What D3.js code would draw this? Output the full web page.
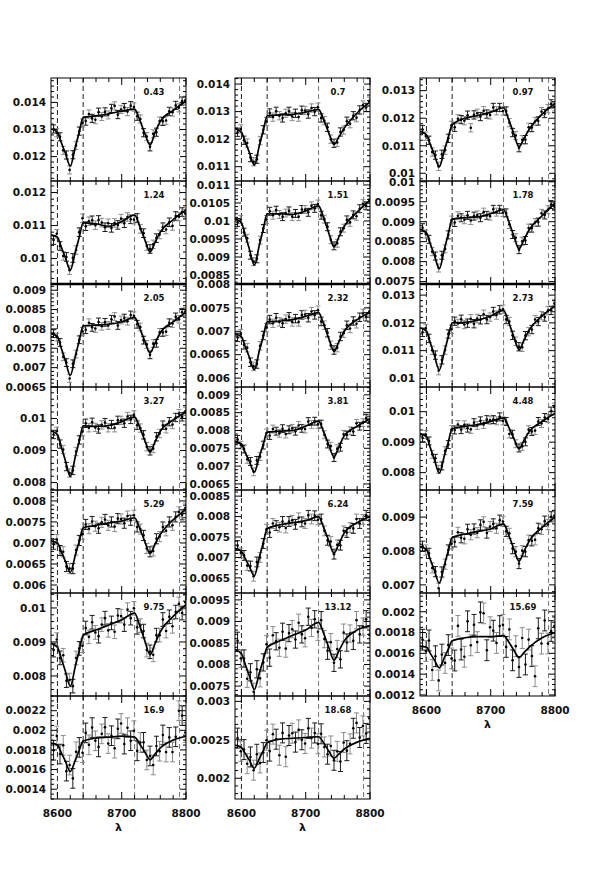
<!DOCTYPE html>
<html><head><meta charset="utf-8">
<script src="https://cdn.jsdelivr.net/npm/d3@7"></script>
<style>body{margin:0;background:#fff}svg{display:block}text{font-family:"DejaVu Sans",sans-serif;fill:#111}</style>
</head><body><svg id="c" width="604" height="870"></svg>
<script>
// ---------- data ----------
const wavelengths = [8594,8599,8604,8609,8614,8619,8624,8629,8634,8639,8644,8649,8654,8659,8664,8669,8674,8679,8684,8689,8694,8699,8704,8709,8714,8719,8724,8729,8734,8739,8744,8749,8754,8759,8764,8769,8774,8779,8784,8789,8794,8799];
const modelWavelengths = [8590,8600,8606,8612,8620,8628,8634,8640,8660,8680,8700,8720,8728,8736,8744,8752,8760,8780,8800];
const lineMarkers = [8600,8640,8720,8790];
const xTickLabels = [8600,8700,8800];
const panelLabels = ["0.43","0.7","0.97","1.24","1.51","1.78","2.05","2.32","2.73","3.27","3.81","4.48","5.29","6.24","7.59","9.75","13.12","15.69","16.9","18.68"];
const yMin = [0.0111,0.01048,0.00972,0.00923,0.00825,0.00744,0.0065,0.00581,0.00969,0.00777,0.00633,0.00743,0.00581,0.00613,0.00676,0.00741,0.00727,0.00119,0.0013,0.00173];
const yMax = [0.0149,0.01422,0.01346,0.01235,0.01111,0.01002,0.00916,0.00801,0.0134,0.01098,0.00922,0.01081,0.00826,0.00865,0.0098,0.01044,0.00966,0.00218,0.00235,0.00307];
const majorStep = [0.001,0.001,0.001,0.001,0.0005,0.0005,0.0005,0.0005,0.001,0.001,0.0005,0.001,0.0005,0.0005,0.001,0.001,0.0005,0.0002,0.0002,0.0005];
const errorSize = [0.00015,0.00015,0.00015,0.00013,0.00011,0.0001,0.0001,0.00009,0.00015,0.00013,0.00011,0.00013,0.00012,0.00012,0.00015,0.0002,0.0002,0.0001,0.0001,0.00013];

const flux043 = [0.01302,0.01288,0.01273,0.01223,0.01206,0.01151,0.01207,0.01241,0.01294,0.01324,0.01331,0.01357,0.01341,0.01336,0.01364,0.01348,0.01365,0.01354,0.01378,0.01387,0.01355,0.01374,0.01381,0.01366,0.01388,0.01383,0.01349,0.01339,0.01288,0.01274,0.01236,0.01284,0.01290,0.01331,0.01330,0.01333,0.01367,0.01364,0.01389,0.01380,0.01405,0.01408];
const flux070 = [0.01225,0.01237,0.01196,0.01186,0.01133,0.01118,0.01127,0.01195,0.01234,0.01264,0.01295,0.01280,0.01301,0.01285,0.01277,0.01294,0.01301,0.01282,0.01294,0.01280,0.01305,0.01304,0.01291,0.01313,0.01300,0.01316,0.01277,0.01267,0.01243,0.01200,0.01185,0.01188,0.01226,0.01233,0.01265,0.01256,0.01285,0.01278,0.01306,0.01324,0.01315,0.01338];
const flux097 = [0.01159,0.01135,0.01120,0.01077,0.01066,0.01025,0.01069,0.01084,0.01127,0.01174,0.01167,0.01198,0.01195,0.01191,0.01211,0.01165,0.01212,0.01218,0.01206,0.01227,0.01215,0.01212,0.01239,0.01227,0.01239,0.01226,0.01226,0.01184,0.01148,0.01137,0.01093,0.01122,0.01122,0.01167,0.01166,0.01188,0.01190,0.01224,0.01217,0.01235,0.01252,0.01241];
const flux124 = [0.01056,0.01075,0.01038,0.01008,0.01005,0.00965,0.01002,0.01026,0.01080,0.01122,0.01098,0.01113,0.01116,0.01101,0.01117,0.01109,0.01095,0.01107,0.01093,0.01108,0.01102,0.01121,0.01107,0.01126,0.01119,0.01118,0.01123,0.01090,0.01077,0.01038,0.01029,0.01043,0.01062,0.01073,0.01095,0.01088,0.01110,0.01099,0.01129,0.01127,0.01141,0.01136];
const flux151 = [0.00996,0.01004,0.00969,0.00952,0.00905,0.00887,0.00895,0.00947,0.00979,0.01004,0.01027,0.01016,0.01030,0.01018,0.01012,0.01022,0.01028,0.01012,0.01021,0.01012,0.01032,0.01032,0.01024,0.01042,0.01035,0.01047,0.01016,0.01005,0.00984,0.00948,0.00931,0.00938,0.00970,0.00980,0.01003,0.00996,0.01017,0.01013,0.01034,0.01048,0.01042,0.01059];
const flux178 = [0.00885,0.00869,0.00856,0.00825,0.00814,0.00784,0.00816,0.00832,0.00867,0.00904,0.00898,0.00915,0.00910,0.00905,0.00916,0.00903,0.00914,0.00917,0.00910,0.00924,0.00916,0.00914,0.00931,0.00924,0.00931,0.00923,0.00922,0.00893,0.00868,0.00860,0.00830,0.00851,0.00853,0.00884,0.00884,0.00898,0.00899,0.00921,0.00917,0.00930,0.00943,0.00938];
const flux205 = [0.00788,0.00779,0.00765,0.00728,0.00713,0.00672,0.00710,0.00735,0.00772,0.00794,0.00798,0.00816,0.00804,0.00801,0.00818,0.00807,0.00817,0.00809,0.00825,0.00832,0.00809,0.00823,0.00828,0.00820,0.00836,0.00834,0.00812,0.00805,0.00771,0.00760,0.00733,0.00762,0.00763,0.00791,0.00791,0.00793,0.00816,0.00814,0.00831,0.00825,0.00843,0.00845];
const flux232 = [0.00687,0.00695,0.00671,0.00665,0.00634,0.00625,0.00630,0.00669,0.00691,0.00708,0.00725,0.00717,0.00729,0.00720,0.00717,0.00726,0.00731,0.00720,0.00727,0.00720,0.00735,0.00736,0.00729,0.00742,0.00735,0.00745,0.00721,0.00713,0.00697,0.00670,0.00660,0.00665,0.00689,0.00696,0.00713,0.00706,0.00722,0.00716,0.00730,0.00738,0.00731,0.00742];
const flux273 = [0.01166,0.01180,0.01144,0.01101,0.01084,0.01028,0.01067,0.01102,0.01160,0.01177,0.01206,0.01198,0.01213,0.01194,0.01199,0.01215,0.01197,0.01216,0.01211,0.01231,0.01212,0.01221,0.01241,0.01228,0.01247,0.01249,0.01212,0.01205,0.01155,0.01134,0.01114,0.01112,0.01154,0.01168,0.01176,0.01212,0.01205,0.01226,0.01221,0.01244,0.01245,0.01270];
const flux327 = [0.00950,0.00960,0.00920,0.00903,0.00850,0.00830,0.00838,0.00897,0.00933,0.00959,0.00985,0.00971,0.00988,0.00972,0.00967,0.00980,0.00987,0.00971,0.00981,0.00971,0.00994,0.00994,0.00985,0.01006,0.00997,0.01011,0.00979,0.00970,0.00949,0.00912,0.00899,0.00906,0.00943,0.00953,0.00979,0.00968,0.00990,0.00981,0.01003,0.01015,0.01005,0.01022];
const flux381 = [0.00775,0.00759,0.00748,0.00719,0.00713,0.00684,0.00716,0.00727,0.00759,0.00793,0.00786,0.00804,0.00798,0.00792,0.00805,0.00790,0.00802,0.00806,0.00798,0.00814,0.00806,0.00804,0.00825,0.00817,0.00826,0.00817,0.00818,0.00788,0.00762,0.00756,0.00724,0.00749,0.00753,0.00789,0.00787,0.00799,0.00797,0.00820,0.00812,0.00822,0.00834,0.00824];
const flux448 = [0.00914,0.00925,0.00904,0.00860,0.00847,0.00811,0.00822,0.00872,0.00892,0.00941,0.00940,0.00958,0.00941,0.00957,0.00946,0.00942,0.00964,0.00955,0.00970,0.00958,0.00974,0.00972,0.00974,0.00970,0.00983,0.00970,0.00968,0.00927,0.00926,0.00895,0.00881,0.00886,0.00901,0.00941,0.00935,0.00938,0.00968,0.00961,0.00981,0.00977,0.01002,0.01015];
const flux529 = [0.00697,0.00708,0.00682,0.00679,0.00644,0.00639,0.00639,0.00683,0.00706,0.00721,0.00744,0.00734,0.00751,0.00740,0.00735,0.00749,0.00756,0.00742,0.00750,0.00739,0.00758,0.00757,0.00747,0.00764,0.00754,0.00766,0.00738,0.00733,0.00718,0.00687,0.00679,0.00681,0.00710,0.00715,0.00738,0.00729,0.00750,0.00742,0.00762,0.00774,0.00767,0.00783];
const flux624 = [0.00729,0.00711,0.00705,0.00680,0.00679,0.00654,0.00689,0.00700,0.00734,0.00769,0.00761,0.00783,0.00778,0.00774,0.00788,0.00772,0.00788,0.00791,0.00781,0.00797,0.00787,0.00783,0.00803,0.00794,0.00802,0.00792,0.00794,0.00765,0.00742,0.00739,0.00708,0.00731,0.00730,0.00765,0.00761,0.00773,0.00771,0.00794,0.00783,0.00793,0.00803,0.00791];
const flux759 = [0.00814,0.00803,0.00793,0.00750,0.00739,0.00690,0.00738,0.00761,0.00803,0.00821,0.00827,0.00855,0.00839,0.00836,0.00864,0.00848,0.00865,0.00854,0.00877,0.00886,0.00853,0.00872,0.00880,0.00867,0.00891,0.00887,0.00858,0.00852,0.00807,0.00798,0.00763,0.00801,0.00798,0.00832,0.00830,0.00833,0.00867,0.00864,0.00888,0.00878,0.00901,0.00904];
const flux975 = [0.00876,0.00907,0.00853,0.00861,0.00786,0.00788,0.00770,0.00853,0.00881,0.00889,0.00941,0.00915,0.00958,0.00928,0.00917,0.00951,0.00970,0.00934,0.00956,0.00930,0.00978,0.00976,0.00951,0.00995,0.00970,0.00999,0.00943,0.00948,0.00932,0.00876,0.00871,0.00862,0.00920,0.00920,0.00966,0.00932,0.00974,0.00946,0.00988,0.01012,0.00985,0.01017];
const flux1312 = [0.00855,0.00814,0.00814,0.00767,0.00782,0.00737,0.00789,0.00768,0.00805,0.00847,0.00816,0.00868,0.00854,0.00839,0.00876,0.00837,0.00873,0.00882,0.00858,0.00897,0.00870,0.00861,0.00911,0.00885,0.00905,0.00876,0.00903,0.00859,0.00832,0.00852,0.00804,0.00836,0.00812,0.00874,0.00851,0.00872,0.00855,0.00903,0.00870,0.00888,0.00905,0.00869];
const flux1569 = [0.001731,0.001622,0.001724,0.001440,0.001572,0.001340,0.001588,0.001508,0.001679,0.001551,0.001531,0.001864,0.001637,0.001567,0.001908,0.001677,0.001874,0.001708,0.001994,0.001985,0.001630,0.001851,0.001818,0.001700,0.001862,0.001874,0.001662,0.001830,0.001533,0.001669,0.001469,0.001747,0.001493,0.001732,0.001574,0.001380,0.001840,0.001694,0.001916,0.001695,0.001815,0.001863];
const flux1690 = [0.001797,0.001943,0.001758,0.001847,0.001584,0.001646,0.001510,0.001782,0.001826,0.001771,0.001974,0.001852,0.002028,0.001893,0.001831,0.001964,0.002031,0.001865,0.001945,0.001818,0.002015,0.002070,0.001860,0.002027,0.001894,0.001996,0.001791,0.001876,0.001878,0.001698,0.001739,0.001647,0.001840,0.001787,0.001953,0.001778,0.001928,0.001779,0.001934,0.002200,0.002150,0.001977];
const flux1868 = [0.002522,0.002351,0.002373,0.002189,0.002277,0.002105,0.002312,0.002199,0.002334,0.002495,0.002353,0.002574,0.002508,0.002300,0.002590,0.002280,0.002556,0.002585,0.002470,0.002629,0.002501,0.002452,0.002649,0.002522,0.002589,0.002449,0.002578,0.002407,0.002313,0.002420,0.002234,0.002350,0.002218,0.002464,0.002359,0.002447,0.002650,0.002720,0.002530,0.002680,0.002583,0.002780];

const model043 = [0.01302,0.01290,0.01252,0.01215,0.01165,0.01237,0.01291,0.01345,0.01350,0.01358,0.01368,0.01375,0.01335,0.01285,0.01243,0.01290,0.01330,0.01370,0.01405];
const model070 = [0.01238,0.01225,0.01189,0.01154,0.01106,0.01178,0.01231,0.01285,0.01288,0.01290,0.01298,0.01308,0.01270,0.01222,0.01180,0.01210,0.01240,0.01295,0.01335];
const model097 = [0.01152,0.01140,0.01105,0.01070,0.01024,0.01085,0.01130,0.01176,0.01200,0.01210,0.01222,0.01238,0.01195,0.01143,0.01096,0.01128,0.01160,0.01215,0.01254];
const model124 = [0.01072,0.01065,0.01035,0.01005,0.00965,0.01022,0.01065,0.01108,0.01105,0.01098,0.01112,0.01132,0.01098,0.01057,0.01020,0.01050,0.01080,0.01118,0.01147];
const model151 = [0.01006,0.00995,0.00960,0.00924,0.00877,0.00934,0.00977,0.01020,0.01020,0.01018,0.01028,0.01042,0.01008,0.00966,0.00928,0.00957,0.00985,0.01025,0.01058];
const model178 = [0.00881,0.00872,0.00845,0.00818,0.00782,0.00832,0.00869,0.00906,0.00910,0.00912,0.00920,0.00930,0.00901,0.00864,0.00832,0.00856,0.00880,0.00915,0.00947];
const model205 = [0.00788,0.00780,0.00750,0.00720,0.00680,0.00731,0.00770,0.00808,0.00810,0.00812,0.00818,0.00830,0.00802,0.00768,0.00738,0.00764,0.00790,0.00818,0.00843];
const model232 = [0.00695,0.00688,0.00667,0.00646,0.00618,0.00659,0.00689,0.00720,0.00722,0.00725,0.00732,0.00740,0.00715,0.00684,0.00657,0.00679,0.00700,0.00725,0.00740];
const model273 = [0.01182,0.01170,0.01128,0.01086,0.01030,0.01098,0.01149,0.01200,0.01202,0.01210,0.01225,0.01245,0.01202,0.01150,0.01103,0.01139,0.01175,0.01225,0.01260];
const model327 = [0.00961,0.00950,0.00911,0.00871,0.00819,0.00882,0.00930,0.00977,0.00975,0.00978,0.00990,0.01005,0.00972,0.00931,0.00895,0.00928,0.00960,0.00995,0.01019];
const model381 = [0.00769,0.00762,0.00738,0.00715,0.00683,0.00728,0.00761,0.00795,0.00798,0.00800,0.00812,0.00826,0.00796,0.00759,0.00726,0.00756,0.00785,0.00812,0.00833];
const model448 = [0.00927,0.00918,0.00882,0.00846,0.00798,0.00856,0.00900,0.00944,0.00952,0.00958,0.00968,0.00980,0.00949,0.00912,0.00878,0.00907,0.00935,0.00968,0.00995];
const model529 = [0.00705,0.00700,0.00679,0.00658,0.00630,0.00672,0.00704,0.00736,0.00742,0.00748,0.00752,0.00760,0.00735,0.00703,0.00675,0.00698,0.00720,0.00755,0.00780];
const model624 = [0.00722,0.00715,0.00697,0.00679,0.00655,0.00701,0.00736,0.00770,0.00780,0.00785,0.00790,0.00800,0.00773,0.00740,0.00710,0.00735,0.00760,0.00785,0.00800];
const model759 = [0.00812,0.00805,0.00775,0.00745,0.00705,0.00759,0.00800,0.00840,0.00850,0.00858,0.00865,0.00880,0.00847,0.00806,0.00770,0.00800,0.00830,0.00870,0.00900];
const model975 = [0.00895,0.00885,0.00851,0.00816,0.00770,0.00830,0.00875,0.00920,0.00935,0.00950,0.00965,0.00985,0.00948,0.00903,0.00862,0.00896,0.00930,0.00975,0.01010];
const model1312 = [0.00835,0.00825,0.00800,0.00775,0.00742,0.00781,0.00811,0.00840,0.00855,0.00868,0.00880,0.00898,0.00872,0.00839,0.00810,0.00833,0.00855,0.00880,0.00890];
const model1569 = [0.00167,0.00166,0.00160,0.00154,0.00146,0.00156,0.00164,0.00172,0.00175,0.00176,0.00176,0.00177,0.00171,0.00163,0.00156,0.00161,0.00166,0.00175,0.00180];
const model1690 = [0.00187,0.00185,0.00177,0.00169,0.00158,0.00170,0.00180,0.00189,0.00192,0.00193,0.00194,0.00193,0.00186,0.00178,0.00170,0.00176,0.00182,0.00190,0.00194];
const model1868 = [0.00243,0.00240,0.00232,0.00224,0.00213,0.00226,0.00236,0.00246,0.00251,0.00252,0.00253,0.00254,0.00246,0.00235,0.00226,0.00232,0.00238,0.00247,0.00252];

const fluxes = [flux043,flux070,flux097,flux124,flux151,flux178,flux205,flux232,flux273,flux327,flux381,flux448,flux529,flux624,flux759,flux975,flux1312,flux1569,flux1690,flux1868];
const models = [model043,model070,model097,model124,model151,model178,model205,model232,model273,model327,model381,model448,model529,model624,model759,model975,model1312,model1569,model1690,model1868];

// ---------- layout ----------
const svg = d3.select("#c");
const colLeft = [51, 235, 420], W = 135, top0 = 78, H = 103;
const x = d3.scaleLinear().domain([8590, 8800]).range([0, W]);
const fmt = v => (+v.toFixed(6)).toString();

panelLabels.forEach((lab, i) => {
  const c = i % 3, r = Math.floor(i / 3);
  const g = svg.append("g").attr("transform", `translate(${colLeft[c]},${top0 + r * H})`);
  const y = d3.scaleLinear().domain([yMin[i], yMax[i]]).range([H, 0]);
  const cid = "clip" + i;
  g.append("clipPath").attr("id", cid).append("rect").attr("width", W).attr("height", H);
  const inner = g.append("g").attr("clip-path", `url(#${cid})`);

  // dashed line markers
  inner.selectAll("line.mk").data(lineMarkers).join("line")
    .attr("x1", d => x(d)).attr("x2", d => x(d)).attr("y1", 0).attr("y2", H)
    .attr("stroke", (d, k) => k < 2 ? "#222" : "#777").attr("stroke-width", 1)
    .attr("stroke-dasharray", "5,3");

  const pts = wavelengths.map((w, j) => ({w, f: fluxes[i][j], j}));
  const e = errorSize[i];
  const eb = inner.selectAll("g.eb").data(pts).join("g")
    .attr("stroke", d => d.j % 2 ? "#8c8c8c" : "#1a1a1a").attr("stroke-width", 1);
  eb.append("line").attr("x1", d => x(d.w)).attr("x2", d => x(d.w))
    .attr("y1", d => y(d.f - e)).attr("y2", d => y(d.f + e));
  eb.append("line").attr("x1", d => x(d.w) - 2.5).attr("x2", d => x(d.w) + 2.5)
    .attr("y1", d => y(d.f - e)).attr("y2", d => y(d.f - e));
  eb.append("line").attr("x1", d => x(d.w) - 2.5).attr("x2", d => x(d.w) + 2.5)
    .attr("y1", d => y(d.f + e)).attr("y2", d => y(d.f + e));
  inner.selectAll("circle").data(pts).join("circle")
    .attr("cx", d => x(d.w)).attr("cy", d => y(d.f)).attr("r", 1.3).attr("fill", "#000");

  const line = d3.line().x(d => x(d[0])).y(d => y(d[1])).curve(d3.curveMonotoneX);
  inner.append("path").datum(modelWavelengths.map((w, k) => [w, models[i][k]]))
    .attr("d", line).attr("fill", "none").attr("stroke", "#000").attr("stroke-width", 1.7);

  // frame
  g.append("rect").attr("width", W).attr("height", H).attr("fill", "none")
    .attr("stroke", "#000").attr("stroke-width", 1);

  // y ticks
  const sub = majorStep[i] === 0.0002 ? 4 : 5;
  const minor = majorStep[i] / sub;
  const k0 = Math.ceil(yMin[i] / minor - 1e-6), k1 = Math.floor(yMax[i] / minor + 1e-6);
  const yt = d3.range(k0, k1 + 1).map(k => ({v: k * minor, major: k % sub === 0}));
  const tk = g.append("g").attr("stroke", "#000").attr("stroke-width", 1);
  yt.forEach(t => {
    const len = t.major ? 6 : 3, yy = y(t.v);
    tk.append("line").attr("x1", 0).attr("x2", len).attr("y1", yy).attr("y2", yy);
    tk.append("line").attr("x1", W - len).attr("x2", W).attr("y1", yy).attr("y2", yy);
  });
  g.selectAll("text.yl").data(yt.filter(t => t.major)).join("text")
    .attr("x", -5).attr("y", d => y(d.v)).attr("dy", "0.36em")
    .attr("text-anchor", "end").attr("font-size", 10.5).attr("font-weight", "bold")
    .text(d => fmt(d.v));

  // x ticks
  d3.range(8600, 8801, 20).forEach(w => {
    const len = w % 100 === 0 ? 7 : 4;
    tk.append("line").attr("x1", x(w)).attr("x2", x(w)).attr("y1", 0).attr("y2", len);
    tk.append("line").attr("x1", x(w)).attr("x2", x(w)).attr("y1", H - len).attr("y2", H);
  });

  // panel label
  g.append("text").attr("x", 103).attr("y", 17).attr("text-anchor", "middle")
    .attr("font-size", 8.5).attr("font-weight", "bold").text(lab);

  // bottom axis labels for last panel of each column
  if (i >= 17) {
    g.selectAll("text.xl").data(xTickLabels).join("text")
      .attr("x", d => x(d)).attr("y", H + 18).attr("text-anchor", "middle")
      .attr("font-size", 10.5).attr("font-weight", "bold").text(d => d);
    g.append("text").attr("x", W / 2).attr("y", H + 32).attr("text-anchor", "middle")
      .attr("font-size", 11).attr("font-weight", "bold").text("λ");
  }
});

// thick separator between second and third rows
colLeft.forEach(cx => {
  svg.append("line").attr("x1", cx).attr("x2", cx + W)
    .attr("y1", top0 + 2 * H).attr("y2", top0 + 2 * H)
    .attr("stroke", "#000").attr("stroke-width", 2.5);
});
</script></body></html>
